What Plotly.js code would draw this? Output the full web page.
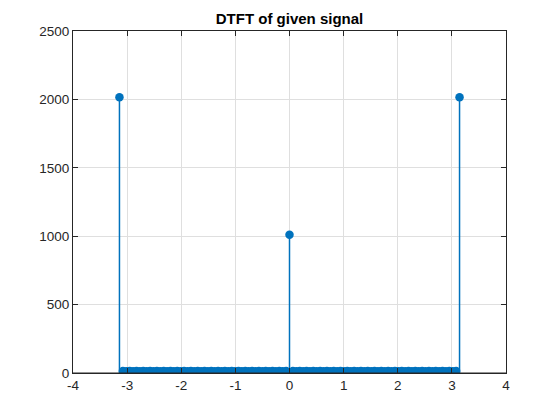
<!DOCTYPE html>
<html>
<head>
<meta charset="utf-8">
<script src="https://cdn.plot.ly/plotly-3.0.1.min.js"></script>
<style>
	html, body { margin: 0; padding: 0; background: #ffffff; }
	#plot { width: 560px; height: 420px; }
</style>
</head>
<body>
<div id="plot"></div>
<script>
// frequency grid w (rad), -pi .. pi
const omega = [
	-3.1416, -3.0788, -3.0159, -2.9531, -2.8903, -2.8274, -2.7646, -2.7018, -2.6389, -2.5761,
	-2.5133, -2.4504, -2.3876, -2.3248, -2.2619, -2.1991, -2.1363, -2.0735, -2.0106, -1.9478,
	-1.8850, -1.8221, -1.7593, -1.6965, -1.6336, -1.5708, -1.5080, -1.4451, -1.3823, -1.3195,
	-1.2566, -1.1938, -1.1310, -1.0681, -1.0053, -0.9425, -0.8796, -0.8168, -0.7540, -0.6912,
	-0.6283, -0.5655, -0.5027, -0.4398, -0.3770, -0.3142, -0.2513, -0.1885, -0.1257, -0.0628,
	0,
	0.0628, 0.1257, 0.1885, 0.2513, 0.3142, 0.3770, 0.4398, 0.5027, 0.5655, 0.6283,
	0.6912, 0.7540, 0.8168, 0.8796, 0.9425, 1.0053, 1.0681, 1.1310, 1.1938, 1.2566,
	1.3195, 1.3823, 1.4451, 1.5080, 1.5708, 1.6336, 1.6965, 1.7593, 1.8221, 1.8850,
	1.9478, 2.0106, 2.0735, 2.1363, 2.1991, 2.2619, 2.3248, 2.3876, 2.4504, 2.5133,
	2.5761, 2.6389, 2.7018, 2.7646, 2.8274, 2.8903, 2.9531, 3.0159, 3.0788, 3.1416
];

// |X(w)|
const magnitude = [
	2015, 14, 13, 14, 13, 14, 13, 14, 13, 14,
	13, 14, 13, 14, 13, 14, 13, 14, 13, 14,
	13, 14, 13, 14, 13, 14, 13, 14, 13, 14,
	13, 14, 13, 14, 13, 14, 13, 14, 13, 14,
	13, 14, 13, 14, 13, 14, 13, 14, 13, 14,
	1010,
	14, 13, 14, 13, 14, 13, 14, 13, 14, 13,
	14, 13, 14, 13, 14, 13, 14, 13, 14, 13,
	14, 13, 14, 13, 14, 13, 14, 13, 14, 13,
	14, 13, 14, 13, 14, 13, 14, 13, 14, 13,
	14, 13, 14, 13, 14, 13, 14, 13, 14, 2015
];

const xTicks = [-4, -3, -2, -1, 0, 1, 2, 3, 4];
const yTicks = [0, 500, 1000, 1500, 2000, 2500];

const stemColor = '#0072BD';
const axisColor = '#262626';
const fontFamily = 'Liberation Sans, Arial, sans-serif';

// stem segments: (w, 0) -> (w, |X|), split with nulls
const stemX = [];
const stemY = [];
omega.forEach((w, i) => {
	stemX.push(w, w, null);
	stemY.push(0, magnitude[i], null);
});

const stems = {
	x: stemX,
	y: stemY,
	type: 'scatter',
	mode: 'lines',
	line: { color: stemColor, width: 1.5 },
	connectgaps: false,
	showlegend: false,
	hoverinfo: 'skip'
};

const heads = {
	x: omega,
	y: magnitude,
	type: 'scatter',
	mode: 'markers',
	marker: { color: stemColor, size: 8.5 },
	showlegend: false,
	hoverinfo: 'x+y'
};

const axisStyle = {
	showline: true,
	linecolor: axisColor,
	linewidth: 1,
	mirror: 'ticks',
	ticks: 'inside',
	ticklen: 5,
	tickwidth: 1,
	tickcolor: axisColor,
	showgrid: true,
	gridcolor: '#dfdfdf',
	gridwidth: 1,
	zeroline: false,
	tickfont: { family: fontFamily, size: 13.5, color: axisColor }
};

const layout = {
	width: 560,
	height: 420,
	margin: { l: 73, r: 54, t: 31, b: 47 },
	paper_bgcolor: '#ffffff',
	plot_bgcolor: '#ffffff',
	title: {
		text: '<b>DTFT of given signal</b>',
		font: { family: fontFamily, size: 15, color: '#000000' },
		x: 0.5,
		xref: 'paper',
		xanchor: 'center',
		y: 0.955,
		yref: 'container',
		yanchor: 'middle'
	},
	xaxis: Object.assign({}, axisStyle, {
		range: [-4, 4],
		tickmode: 'array',
		tickvals: xTicks,
		ticktext: xTicks.map(String)
	}),
	yaxis: Object.assign({}, axisStyle, {
		range: [0, 2500],
		tickmode: 'array',
		tickvals: yTicks,
		ticktext: yTicks.map(String)
	}),
	// stem baseline, drawn over the markers as MATLAB does
	shapes: [{
		type: 'line',
		xref: 'paper', x0: 0, x1: 1,
		yref: 'y', y0: 0, y1: 0,
		line: { color: axisColor, width: 1 },
		layer: 'above'
	}]
};

Plotly.newPlot('plot', [stems, heads], layout, { displayModeBar: false, staticPlot: true });
</script>
</body>
</html>
